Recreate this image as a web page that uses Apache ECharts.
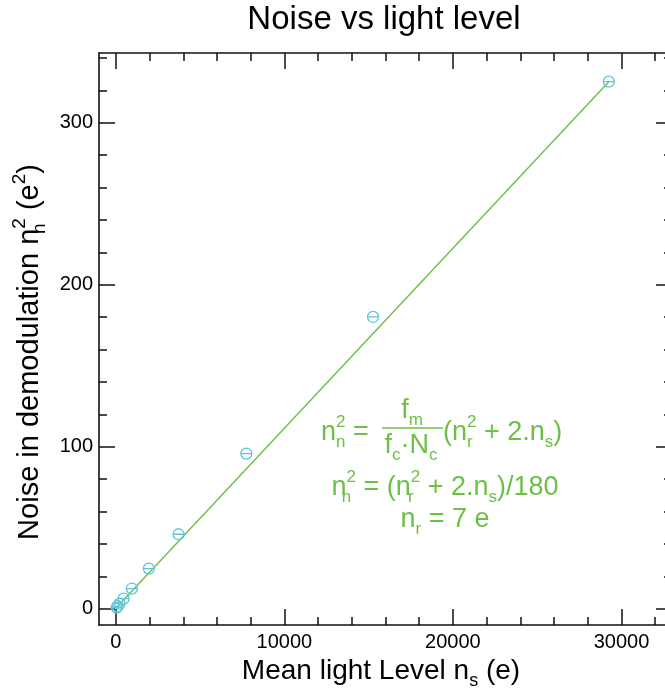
<!DOCTYPE html>
<html>
<head>
<meta charset="utf-8">
<script src="https://cdn.jsdelivr.net/npm/echarts@6/dist/echarts.min.js"></script>
<style>
  html, body { margin: 0; padding: 0; background: #ffffff; overflow: hidden; }
  #chart { width: 665px; height: 688px; }
</style>
</head>
<body>
<div id="chart"></div>
<script>
// Measured demodulation noise against mean light level
const lightLevel = [29250, 15260, 7740, 3720, 1960, 950, 460, 220, 110, 50];
const noiseVar   = [325.3, 180.1, 95.8, 46.0, 24.8, 12.5, 6.3, 3.2, 1.6, 0.7];

// Model line n_n^2 = (n_r^2 + 2 n_s)/180, end points
const fitLight = [0, 29250];
const fitNoise = [0.3, 325.3];

// Tick positions
const xMajorTicks = [0, 10000, 20000, 30000];
const xMinorTicks = [0, 2000, 4000, 6000, 8000, 10000, 12000, 14000, 16000, 18000,
                     20000, 22000, 24000, 26000, 28000, 30000, 32000];
const yMajorTicks = [0, 100, 200, 300];
const yMinorTicks = [0, 20, 40, 60, 80, 100, 120, 140, 160, 180, 200, 220, 240,
                     260, 280, 300, 320, 340];

const X_MIN = -1000, X_MAX = 33000;
const Y_MIN = -10, Y_MAX = 343;

const FONT = '"Liberation Sans", Arial, Helvetica, sans-serif';
const INK = '#111111';
const GREEN = '#6dbf45';
const CYAN = '#5ec6dc';

function frameAxis(kind, position, ticks, len, withLine, withLabels) {
  const isX = kind === 'x';
  return {
    type: 'value',
    position: position,
    min: isX ? X_MIN : Y_MIN,
    max: isX ? X_MAX : Y_MAX,
    splitLine: { show: false },
    axisLine: { show: withLine, onZero: false, lineStyle: { color: INK, width: 1.6 } },
    axisTick: {
      show: true, inside: true, length: len, customValues: ticks,
      lineStyle: { color: INK, width: 1.5 }
    },
    axisLabel: {
      show: withLabels, customValues: ticks,
      formatter: (v) => String(v),
      fontFamily: FONT, fontSize: 20, color: '#000',
      margin: isX ? 7 : 6
    }
  };
}

// Rich styles for formula text (main size, sub/superscripts)
function richSet(size, color) {
  const s = size / 25;
  const base = { fontFamily: FONT, fill: color, color: color };
  return {
    m:   Object.assign({}, base, { fontSize: size, lineHeight: Math.round(34 * s) }),
    sp:  Object.assign({}, base, { fontSize: Math.round(16 * s), lineHeight: Math.round(18 * s), verticalAlign: 'top' }),
    sb:  Object.assign({}, base, { fontSize: Math.round(16 * s), lineHeight: Math.round(16 * s), verticalAlign: 'bottom' }),
    sbz: Object.assign({}, base, { fontSize: Math.round(16 * s), lineHeight: Math.round(16 * s), verticalAlign: 'bottom', width: 0 })
  };
}

const chart = echarts.init(document.getElementById('chart'), null, { renderer: 'canvas' });

const F = 27;

const option = {
  backgroundColor: '#ffffff',
  animation: false,
  grid: { left: 99, right: -7, top: 53, bottom: 63, outerBoundsMode: 'none' },
  xAxis: [
    frameAxis('x', 'bottom', xMajorTicks, 16, true, true),
    frameAxis('x', 'bottom', xMinorTicks, 8, false, false),
    frameAxis('x', 'top', xMajorTicks, 16, true, false),
    frameAxis('x', 'top', xMinorTicks, 8, false, false)
  ],
  yAxis: [
    frameAxis('y', 'left', yMajorTicks, 16, true, true),
    frameAxis('y', 'left', yMinorTicks, 8, false, false),
    frameAxis('y', 'right', yMajorTicks, 16, true, false),
    frameAxis('y', 'right', yMinorTicks, 8, false, false)
  ],
  series: [
    {
      type: 'line',
      xAxisIndex: 0, yAxisIndex: 0,
      data: fitLight.map((x, i) => [x, fitNoise[i]]),
      showSymbol: false,
      lineStyle: { color: GREEN, width: 1.4 },
      silent: true, z: 2
    },
    {
      type: 'scatter',
      xAxisIndex: 0, yAxisIndex: 0,
      data: lightLevel.map((x, i) => [x, noiseVar[i]]),
      symbol: 'path://M1,6 A5,5 0 1 1 11,6 A5,5 0 1 1 1,6 Z M1,6 L11,6',
      symbolSize: 11,
      itemStyle: { color: 'rgba(0,0,0,0)', borderColor: CYAN, borderWidth: 1.3, opacity: 1 },
      silent: true, z: 3
    }
  ],
  graphic: [
    {
      type: 'text', x: 384, y: 20,
      style: { text: 'Noise vs light level', fontFamily: FONT, fontSize: 33, fill: '#000',
               align: 'center', verticalAlign: 'middle' }
    },
    {
      type: 'text', x: 381, y: 671,
      style: { text: '{m|Mean light Level n}{sb|s}{m| (e)}', rich: richSet(28, '#000'),
               align: 'center', verticalAlign: 'middle' }
    },
    {
      type: 'text', x: 30, y: 352, rotation: Math.PI / 2,
      style: { text: '{m|Noise in demodulation n}{sbz|n}{sp|2}{m| (e}{sp|2}{m|)}', rich: richSet(29, '#000'),
               align: 'center', verticalAlign: 'middle' }
    },
    // formula block
    {
      type: 'text', x: 321, y: 414,
      style: { text: '{m|n}{sbz|n}{sp|2}{m| =}', rich: richSet(F, GREEN), align: 'left', verticalAlign: 'top' }
    },
    {
      type: 'text', x: 412, y: 392,
      style: { text: '{m|f}{sb|m}', rich: richSet(F, GREEN), align: 'center', verticalAlign: 'top' }
    },
    {
      type: 'line', shape: { x1: 382, y1: 428, x2: 443, y2: 428 },
      style: { stroke: GREEN, lineWidth: 1.5 }
    },
    {
      type: 'text', x: 411, y: 427,
      style: { text: '{m|f}{sb|c}{m|·N}{sb|c}', rich: richSet(F, GREEN), align: 'center', verticalAlign: 'top' }
    },
    {
      type: 'text', x: 443, y: 414,
      style: { text: '{m|(n}{sbz|r}{sp|2}{m| + 2.n}{sb|s}{m|)}', rich: richSet(F, GREEN), align: 'left', verticalAlign: 'top' }
    },
    {
      type: 'text', x: 445, y: 469,
      style: { text: '{m|n}{sbz|n}{sp|2}{m| = (n}{sbz|r}{sp|2}{m| + 2.n}{sb|s}{m|)/180}', rich: richSet(F, GREEN), align: 'center', verticalAlign: 'top' }
    },
    {
      type: 'text', x: 445, y: 501,
      style: { text: '{m|n}{sb|r}{m| = 7 e}', rich: richSet(F, GREEN), align: 'center', verticalAlign: 'top' }
    }
  ]
};

chart.setOption(option);
</script>
</body>
</html>
